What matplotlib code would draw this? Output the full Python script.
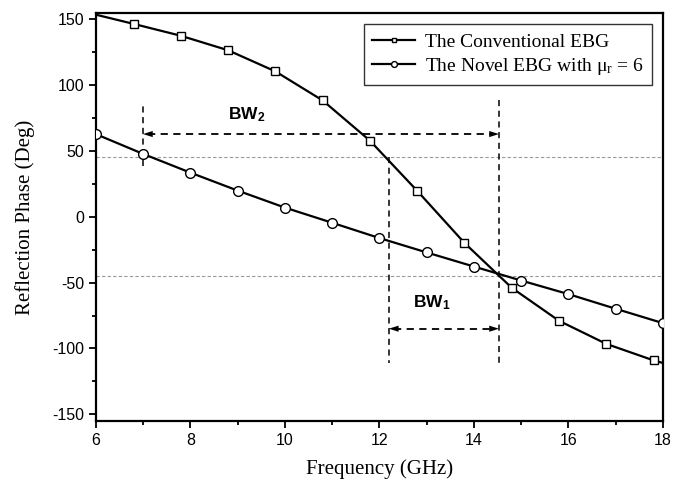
import matplotlib
matplotlib.use("Agg")
import matplotlib.pyplot as plt
from matplotlib.ticker import MultipleLocator

plt.rcParams['mathtext.fontset'] = 'custom'
plt.rcParams['mathtext.rm'] = 'Liberation Serif'
plt.rcParams['mathtext.it'] = 'Liberation Serif:italic'
plt.rcParams['mathtext.bf'] = 'Liberation Sans:bold'
plt.rcParams['axes.unicode_minus'] = False

# Conventional EBG (first/last points are curve ends without markers)
conv_freq = [6, 6.8, 7.8, 8.8, 9.8, 10.8, 11.8, 12.8, 13.8, 14.8, 15.8, 16.8, 17.8, 18]
conv_phase = [153, 146, 137, 126, 110, 88, 57.5, 19.5, -20, -54, -79, -96.5, -109, -111]

# Novel EBG with mu_r = 6
novel_freq = [6, 7, 8, 9, 10, 11, 12, 13, 14, 15, 16, 17, 18]
novel_phase = [62.5, 47.5, 33.3, 19.7, 6.8, -4.7, -16.3, -27.2, -37.9, -48.5, -58.8, -69.9, -80.8]

# bandwidth annotations
bw2_lo, bw2_hi, bw2_y = 7.0, 14.53, 62.5
bw1_lo, bw1_hi, bw1_y = 12.2, 14.53, -85
phase_limit = 45

fig = plt.figure(figsize=(6.86, 4.84), dpi=100)
ax = fig.add_axes([0.1395, 0.130, 0.827, 0.8425])

ax.axhline(phase_limit, color='#999999', ls=(0, (3, 2)), lw=0.8, zorder=1)
ax.axhline(-phase_limit, color='#999999', ls=(0, (3, 2)), lw=0.8, zorder=1)

ax.plot(conv_freq, conv_phase, color='black', lw=1.6, marker='s', ms=6,
        mfc='white', mec='black', mew=1.0, markevery=list(range(1, 13)),
        label='The Conventional EBG', zorder=3)
ax.plot(novel_freq, novel_phase, color='black', lw=1.6, marker='o', ms=7,
        mfc='white', mec='black', mew=1.0,
        label=r'The Novel EBG with μ$_{\mathrm{r}}$ = 6', zorder=3)

dash = (0, (4, 3))
ax.plot([bw2_lo, bw2_lo], [38, 87], color='black', lw=1.1, ls=dash, zorder=2)
ax.plot([bw1_lo, bw1_lo], [45, -111], color='black', lw=1.1, ls=dash, zorder=2)
ax.plot([bw2_hi, bw2_hi], [88, -111], color='black', lw=1.1, ls=dash, zorder=2)

for lo, hi, y in [(bw2_lo, bw2_hi, bw2_y), (bw1_lo, bw1_hi, bw1_y)]:
    ax.plot([lo + 0.1, hi - 0.1], [y, y], color='black', lw=1.3, ls=dash, zorder=2)
    for tip, tail in [(lo, lo + 0.3), (hi, hi - 0.3)]:
        ax.annotate('', xy=(tip, y), xytext=(tail, y),
                    arrowprops=dict(arrowstyle='-|>,head_length=0.7,head_width=0.22',
                                    color='black', lw=0.01, shrinkA=0, shrinkB=0))

ax.text(9.2, 77, r'$\mathbf{BW_2}$', fontsize=12.5, ha='center', va='center')
ax.text(13.1, -65, r'$\mathbf{BW_1}$', fontsize=12.5, ha='center', va='center')

ax.set_xlim(6, 18)
ax.set_ylim(-155, 154)
ax.xaxis.set_major_locator(MultipleLocator(2))
ax.xaxis.set_minor_locator(MultipleLocator(1))
ax.yaxis.set_major_locator(MultipleLocator(50))
ax.yaxis.set_minor_locator(MultipleLocator(25))
ax.tick_params(which='both', direction='out', top=False, right=False, width=1.3)
ax.tick_params(which='major', length=5, labelsize=11.5)
ax.tick_params(which='minor', length=3)
for lab in ax.get_xticklabels() + ax.get_yticklabels():
    lab.set_family('Liberation Sans')
for sp in ax.spines.values():
    sp.set_linewidth(1.6)

ax.set_xlabel('Frequency (GHz)', family='Liberation Serif', fontsize=15, labelpad=8)
ax.set_ylabel('Reflection Phase (Deg)', family='Liberation Serif', fontsize=15, labelpad=12)

leg = ax.legend(loc='upper right', prop={'family': 'Liberation Serif', 'size': 14},
                frameon=True, fancybox=False, edgecolor='black', markerscale=0.6,
                handlelength=2.2, handletextpad=0.5, borderpad=0.45, labelspacing=0.25,
                borderaxespad=0, bbox_to_anchor=(0.981, 0.973))
leg.get_frame().set_linewidth(1.0)

fig.savefig('out.png', dpi=100)
